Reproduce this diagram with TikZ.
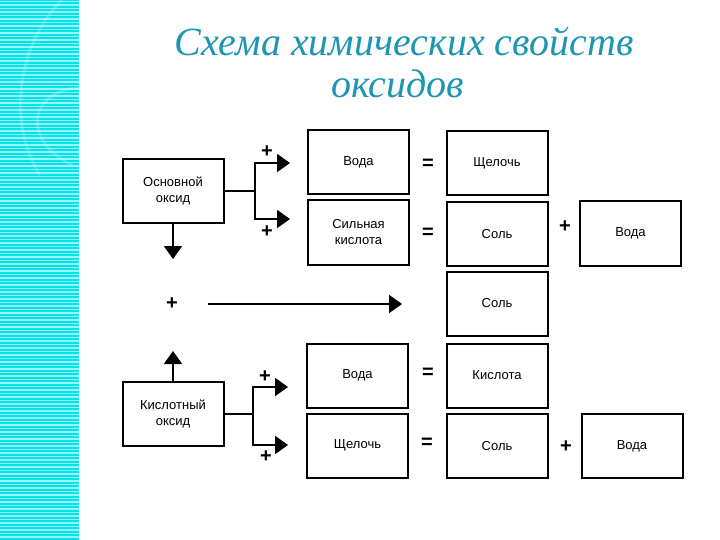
\documentclass[tikz,border=0pt]{standalone}
\usepackage{fontspec}
\setmainfont{Liberation Sans}
\newfontfamily\titlefont{Liberation Serif}
\usetikzlibrary{arrows.meta}
\definecolor{stripcyan}{RGB}{0,228,238}
\definecolor{titleteal}{RGB}{28,150,178}
\tikzset{
	box/.style={draw,line width=2pt,minimum width=101pt,minimum height=64pt,inner sep=0pt,align=center,font=\fontsize{13}{16}\selectfont},
	link/.style={line width=2pt},
	arr/.style={line width=2pt,-{Triangle[width=18pt,length=13pt]}},
	sign/.style={inner sep=0pt,font=\fontsize{20}{20}\selectfont\bfseries},
	title/.style={anchor=base,text=titleteal,font=\fontsize{40}{40}\titlefont\itshape},
}
\begin{document}
\begin{tikzpicture}[x=1pt,y=-1pt]
	\useasboundingbox (0,0) rectangle (720,540);
	% left strip
	\fill[stripcyan] (0,0) rectangle (79,540);
	\foreach \y in {1.5,5,...,540}
		\draw[white,line width=1.1pt,opacity=.6] (0,\y) -- (79,\y);
	\draw[white,line width=3pt,opacity=.2] (62,0) .. controls (20,40) and (5,120) .. (40,175);
	\draw[white,line width=3pt,opacity=.2] (79,88) .. controls (30,90) and (20,140) .. (72,165);
	% title
	\node[title] (ttl1) at (404,56) {Схема химических свойств};
	\node[title] (ttl2) at (398,98) {оксидов};
	% boxes
	\node[box] (base) at (173,191) {Основной\\оксид};
	\node[box] (water1) at (358.5,162.5) {Вода};
	\node[box] (alkali1) at (497,163.5) {Щелочь};
	\node[box] (sacid) at (358.5,232.5) {Сильная\\кислота};
	\node[box] (salt1) at (497,234) {Соль};
	\node[box] (water2) at (630.5,233.5) {Вода};
	\node[box] (salt2) at (497,303.5) {Соль};
	\node[box] (acidox) at (173,413.5) {Кислотный\\оксид};
	\node[box] (water3) at (357.5,375.5) {Вода};
	\node[box] (acid) at (497,375.5) {Кислота};
	\node[box] (alkali2) at (357.5,445.5) {Щелочь};
	\node[box] (salt3) at (497,446) {Соль};
	\node[box] (water4) at (632,446) {Вода};
	% signs
	\node[sign] (p1) at (267,152) {+};
	\node[sign] (p2) at (267,232) {+};
	\node[sign] (e1) at (428,164) {=};
	\node[sign] (e2) at (428,233) {=};
	\node[sign] (p3) at (565,227) {+};
	\node[sign] (p4) at (172,304) {+};
	\node[sign] (p5) at (265,377) {+};
	\node[sign] (p6) at (266,457) {+};
	\node[sign] (e3) at (428,373) {=};
	\node[sign] (e4) at (427,443) {=};
	\node[sign] (p7) at (566,447) {+};
	% connectors
	\coordinate (bj) at (255,191);
	\coordinate (ba1) at (290,163);
	\coordinate (ba2) at (290,219);
	\coordinate (bdown) at (173,259);
	\draw[arr] (base.east) -- (bj) |- (ba1);
	\draw[arr] (bj) |- (ba2);
	\draw[arr] (base.south) -- (bdown);
	\coordinate (ms) at (208,304);
	\coordinate (me) at (402,304);
	\draw[arr] (ms) -- (me);
	\coordinate (aj) at (253,413.5);
	\coordinate (aa1) at (288,387);
	\coordinate (aa2) at (288,445);
	\coordinate (aup) at (173,351);
	\draw[arr] (acidox.east) -- (aj) |- (aa1);
	\draw[arr] (aj) |- (aa2);
	\draw[arr] (acidox.north) -- (aup);
\end{tikzpicture}
\end{document}
